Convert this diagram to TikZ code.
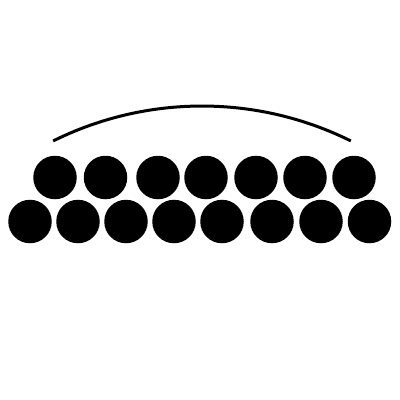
\documentclass[tikz,border=0pt]{standalone}
\begin{document}
\begin{tikzpicture}[x=1pt,y=-1pt,
  ball/.style={circle,fill=black,draw=none,inner sep=0pt,minimum size=43.5pt}]
\useasboundingbox (0,0) rectangle (400,400);
\foreach \x [count=\i] in {55,105.5,158,206,256,305,354}
  \node[ball] (t\i) at (\x,177.5) {};
\foreach \x [count=\i] in {30,78,126,174,222,272,321,369.5}
  \node[ball] (b\i) at (\x,221.5) {};
\coordinate (c) at (202,440.7);
\draw[line width=3pt] (c) ++(-116.4:334.7) arc[start angle=-116.4,end angle=-63.6,radius=334.7];
\end{tikzpicture}
\end{document}
